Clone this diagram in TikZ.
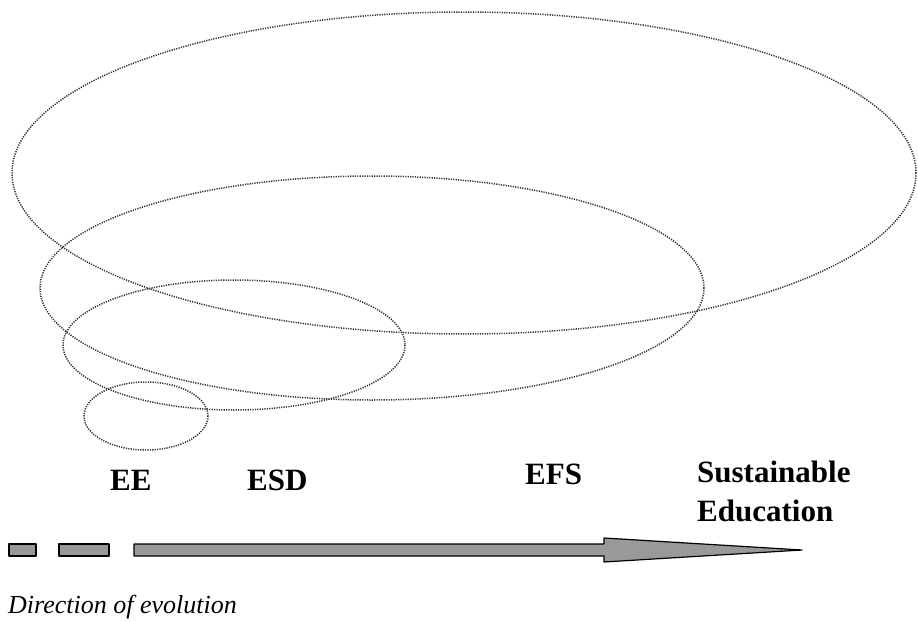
\documentclass[tikz,border=0pt]{standalone}
\usepackage{fontspec}
\setmainfont{Liberation Serif}
\begin{document}
\begin{tikzpicture}[x=1pt, y=-1pt,
    ring/.style={draw=black!80, line width=1.5pt, dash pattern=on 1.2pt off 1.2pt},
    stage/.style={font=\fontsize{31}{39}\selectfont\bfseries, anchor=base west, align=left, inner sep=0pt},
    piece/.style={draw=black, line width=1.2pt, fill=black!40, line join=round}]
    \useasboundingbox (0, 0) rectangle (918, 621);
    \draw[ring] (464, 173) ellipse [x radius=452, y radius=161];
    \draw[ring] (372, 288) ellipse [x radius=332, y radius=112];
    \draw[ring] (234, 345) ellipse [x radius=171, y radius=65];
    \draw[ring] (146, 416) ellipse [x radius=62, y radius=34];
    \node (EE) at (110, 490) [stage] {EE};
    \node (ESD) at (247, 490) [stage] {ESD};
    \node (EFS) at (525, 484) [stage] {EFS};
    \node (SE) at (697, 521) [stage] {Sustainable\\Education};
    \draw[piece] (9, 544) rectangle (36, 556);
    \draw[piece] (59, 544) rectangle (109, 556);
    \draw[piece] (134, 544) -- (604, 544) -- (604, 538) -- (802, 550)
        -- (604, 562) -- (604, 556) -- (134, 556) -- cycle;
    \node (dir) at (8, 613) [anchor=base west, inner sep=0pt, font=\fontsize{26}{30}\selectfont\itshape] {Direction of evolution};
  \end{tikzpicture}
\end{document}
